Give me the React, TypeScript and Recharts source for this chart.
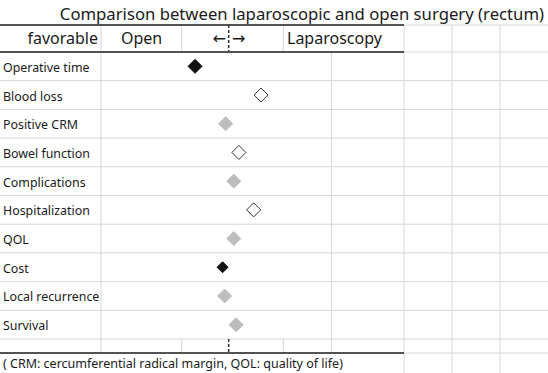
import { ScatterChart, Scatter, XAxis, YAxis, ReferenceLine } from "recharts";

const outcomes = [
  "Operative time",
  "Blood loss",
  "Positive CRM",
  "Bowel function",
  "Complications",
  "Hospitalization",
  "QOL",
  "Cost",
  "Local recurrence",
  "Survival",
];

// negative = favours open, positive = favours laparoscopy
const scores = [-1.32, 1.27, -0.12, 0.4, 0.2, 0.98, 0.2, -0.24, -0.16, 0.29];

const verdicts = [
  "open",
  "laparoscopy",
  "even",
  "laparoscopy",
  "even",
  "laparoscopy",
  "even",
  "open",
  "even",
  "even",
];

const headerLabels = ["favorable", "Open", "Laparoscopy"];

const W = 548;
const H = 373;
const FONT = "'Noto Sans', 'DejaVu Sans', sans-serif";
const GRID = "#d6d6d6";
const INK = "#1a1a1a";

// table layout (px)
const TITLE_B = 25;
const HEAD_B = 52;
const DATA_B = 339;
const BLANK_B = 353;
const COL_LABEL = 101;
const COL_OPEN = 181.7;
const MID = 228.7;
const COL_LAP = 283.3;
const COL_DATA = 331.5;
const EXTRA_COLS = [404, 452, 500];
const UNIT = 25.5; // px per score unit
const smallMarks = ["Cost"];

const points = outcomes.map((name, i) => ({
  name,
  score: scores[i],
  row: i + 0.5,
  verdict: verdicts[i],
}));

const rowTicks = outcomes.map((_, i) => i + 0.5);
const rowLines = outcomes.slice(1).map((_, i) => i + 1);

const markStyle: Record<string, { fill: string; stroke: string }> = {
  open: { fill: "#111111", stroke: "#111111" },
  laparoscopy: { fill: "#ffffff", stroke: "#333333" },
  even: { fill: "#bdbdbd", stroke: "#bdbdbd" },
};

function Diamond(props: any) {
  const { cx, cy, payload } = props;
  const r = smallMarks.includes(payload.name) ? 5.5 : 7;
  const s = markStyle[payload.verdict];
  return (
    <polygon
      points={`${cx},${cy - r} ${cx + r},${cy} ${cx},${cy + r} ${cx - r},${cy}`}
      fill={s.fill}
      stroke={s.stroke}
      strokeWidth={1}
    />
  );
}

function RowLabel(props: any) {
  const { y, payload } = props;
  return (
    <text x={3} y={y + 5.5} fontSize={12.4} fontFamily={FONT} fill={INK} textAnchor="start">
      {outcomes[Math.floor(payload.value)]}
    </text>
  );
}

function Table() {
  const v = (x: number, y1: number, y2: number, key: string) => (
    <line key={key} x1={x} x2={x} y1={y1} y2={y2} stroke={GRID} strokeWidth={1} />
  );
  const hBlack = (y: number) => (
    <g key={`hb${y}`}>
      <line x1={0} x2={404} y1={y} y2={y} stroke={INK} strokeWidth={1.5} />
      <line x1={404} x2={W} y1={y} y2={y} stroke={GRID} strokeWidth={1} />
    </g>
  );
  return (
    <svg width={W} height={H} style={{ position: "absolute", left: 0, top: 0 }}>
      <rect width={W} height={H} fill="#ffffff" />
      {EXTRA_COLS.map((x) => v(x, TITLE_B, H, `c${x}`))}
      {v(COL_LABEL, TITLE_B, BLANK_B, "vl")}
      {v(COL_OPEN, TITLE_B, HEAD_B, "vo1")}
      {v(COL_OPEN, DATA_B, BLANK_B, "vo2")}
      {v(COL_LAP, TITLE_B, HEAD_B, "vlap1")}
      {v(COL_LAP, DATA_B, BLANK_B, "vlap2")}
      {v(COL_DATA, HEAD_B, BLANK_B, "vd")}
      <line x1={0} x2={W} y1={DATA_B} y2={DATA_B} stroke={GRID} strokeWidth={1} />
      {hBlack(TITLE_B)}
      {hBlack(HEAD_B)}
      {hBlack(BLANK_B)}
      <line x1={MID} x2={MID} y1={TITLE_B} y2={HEAD_B} stroke="#333" strokeWidth={1.5} strokeDasharray="3 2" />
      <line x1={MID} x2={MID} y1={DATA_B} y2={BLANK_B} stroke="#333" strokeWidth={1.5} strokeDasharray="3 2" />

      <text x={544} y={20} textAnchor="end" fontSize={16.7} fontFamily={FONT} fill={INK}>
        Comparison between laparoscopic and open surgery (rectum)
      </text>
      <g fontSize={16} fontFamily={FONT} fill={INK}>
        <text x={98} y={43.5} textAnchor="end">{headerLabels[0]}</text>
        <text x={121} y={43.5}>{headerLabels[1]}</text>
        <text x={226} y={43.5} textAnchor="end">←</text>
        <text x={232} y={43.5}>→</text>
        <text x={287} y={43.5}>{headerLabels[2]}</text>
      </g>
      <text x={3} y={368} fontSize={12.5} fontFamily={FONT} fill={INK}>
        ( CRM: cercumferential radical margin, QOL: quality of life)
      </text>
    </svg>
  );
}

export default function App() {
  const xDomain = [-MID / UNIT, (W - MID) / UNIT];
  return (
    <div style={{ position: "absolute", left: 0, top: 0, width: W, height: H }}>
      <Table />
      <div style={{ position: "absolute", left: 0, top: 0 }}>
        <ScatterChart width={W} height={H} margin={{ top: HEAD_B, right: 0, bottom: H - DATA_B, left: 0 }}>
          <XAxis type="number" dataKey="score" domain={xDomain} hide allowDataOverflow />
          <YAxis
            type="number"
            dataKey="row"
            domain={[0, outcomes.length]}
            reversed
            ticks={rowTicks}
            interval={0}
            mirror
            axisLine={false}
            tickLine={false}
            tick={<RowLabel />}
          />
          {rowLines.map((y) => (
            <ReferenceLine key={y} y={y} stroke={GRID} strokeWidth={1} />
          ))}
          <Scatter data={points} shape={<Diamond />} isAnimationActive={false} />
        </ScatterChart>
      </div>
    </div>
  );
}
